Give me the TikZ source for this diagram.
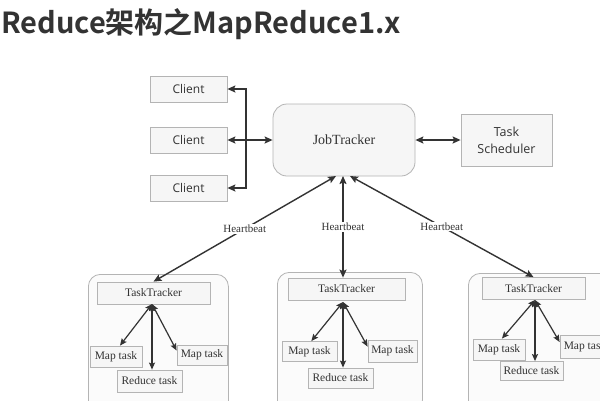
\documentclass[tikz,border=0pt]{standalone}
\usepackage{fontspec}
\setmainfont{Liberation Serif}
\newfontfamily\cjk{Noto Sans CJK SC Bold}
\newfontfamily\sansf{Open Sans}
\usetikzlibrary{arrows.meta}
\definecolor{ink}{HTML}{333333}
\definecolor{edge}{HTML}{B4B4B4}
\definecolor{boxfill}{HTML}{F6F6F6}
\definecolor{grpfill}{HTML}{FBFBFB}
\begin{document}
\begin{tikzpicture}[x=1pt,y=-1pt,
  box/.style={draw=edge, fill=boxfill, line width=0.8pt, inner sep=0pt, text=ink},
  client/.style={box, minimum width=77pt, minimum height=26pt, font=\sansf\fontsize{12}{14}\selectfont},
  grp/.style={draw=edge, fill=grpfill, line width=0.8pt, rounded corners=12pt},
  tt/.style={box, minimum height=22pt, font=\fontsize{11.5}{13}\selectfont},
  task/.style={box, minimum height=20pt, font=\fontsize{11.5}{13}\selectfont},
  arr/.style={draw=ink, line width=1.4pt, -{Stealth[length=8pt,width=7pt,inset=1.5pt]}},
  darr/.style={draw=ink, line width=1.4pt, {Stealth[length=8pt,width=7pt,inset=1.5pt]}-{Stealth[length=8pt,width=7pt,inset=1.5pt]}},
  sarr/.style={draw=ink, line width=1.2pt, {Stealth[length=7pt,width=6pt,inset=1.2pt]}-{Stealth[length=7pt,width=6pt,inset=1.2pt]}},
  hb/.style={fill=white, inner sep=1pt, text=ink, font=\fontsize{11}{12}\selectfont}
]
\fill[white] (0,0) rectangle (600,400);
\useasboundingbox (0,0) rectangle (600,400);
\clip (0,0) rectangle (600,400);

% title
\node[anchor=base west, inner sep=0pt, text=ink, font=\cjk\fontsize{29}{32}\selectfont] (title) at (1,33) {Reduce架构之MapReduce1.x};

% clients
\node[client] (c1) at (188.5,89) {Client};
\node[client] (c2) at (188.5,140) {Client};
\node[client] (c3) at (188.5,188) {Client};

% JobTracker & scheduler
\node[box, rounded corners=14pt, minimum width=142pt, minimum height=72pt, font=\fontsize{14}{16}\selectfont] (jt) at (344,140) {JobTracker};
\node[box, minimum width=91pt, minimum height=52pt, align=center, font=\sansf\fontsize{12.5}{17}\selectfont] (ts) at (506.5,140) {Task\\Scheduler};

\coordinate (bus) at (246,140);
\draw[arr] (bus) |- (c1.east);
\draw[arr] (bus) |- (c3.east);
\draw[darr] (c2) -- (jt);
\draw[darr] (jt) -- (ts);

% groups
\node[grp, minimum width=140pt, minimum height=140pt, anchor=north west] (g1) at (88,274) {};
\node[grp, minimum width=145pt, minimum height=140pt, anchor=north west] (g2) at (277,272) {};
\node[grp, minimum width=150pt, minimum height=140pt, anchor=north west] (g3) at (468,273) {};

\node[tt, minimum width=113pt] (tt1) at (153.5,293) {TaskTracker};
\node[tt, minimum width=117pt] (tt2) at (346.5,289) {TaskTracker};
\node[tt, minimum width=103pt] (tt3) at (533.5,288.5) {TaskTracker};

% heartbeats
\coordinate (j1) at (336,176);
\coordinate (j2) at (343,176);
\coordinate (j3) at (350,176);
\draw[darr] (j1) -- node[hb] {Heartbeat} (tt1.north);
\draw[darr] (j2) -- node[hb] {Heartbeat} (tt2.north -| j2);
\draw[darr] (j3) -- node[hb] {Heartbeat} (tt3.north);

% group 1 tasks
\node[task, minimum width=52pt, minimum height=21pt] (m1a) at (116,356.5) {Map task};
\node[task, minimum width=50pt] (m1b) at (202,355) {Map task};
\node[task, minimum width=65pt, minimum height=22pt] (r1) at (149.5,381) {Reduce task};
\coordinate (h1) at (152,304);
\draw[sarr] (h1) -- (m1a.70);
\draw[sarr] (h1) -- (r1.north -| h1);
\draw[sarr] (h1) -- (m1b.170);

% group 2 tasks
\node[task, minimum width=55pt] (m2a) at (309.5,351.5) {Map task};
\node[task, minimum width=49pt, minimum height=22pt] (m2b) at (392.5,351) {Map task};
\node[task, minimum width=65pt] (r2) at (340.5,378) {Reduce task};
\coordinate (h2) at (343,302);
\draw[sarr] (h2) -- (m2a.80);
\draw[sarr] (h2) -- (r2.north -| h2);
\draw[sarr] (h2) -- (m2b.170);

% group 3 tasks
\node[task, minimum width=52pt, minimum height=21pt] (m3a) at (499,349.5) {Map task};
\node[task, minimum width=50pt, minimum height=23pt] (m3b) at (585,346.5) {Map task};
\node[task, minimum width=63pt, minimum height=19pt] (r3) at (531.5,371) {Reduce task};
\coordinate (h3) at (535,300);
\draw[sarr] (h3) -- (m3a.75);
\draw[sarr] (h3) -- (r3.north -| h3);
\draw[sarr] (h3) -- (m3b.170);
\end{tikzpicture}
\end{document}
